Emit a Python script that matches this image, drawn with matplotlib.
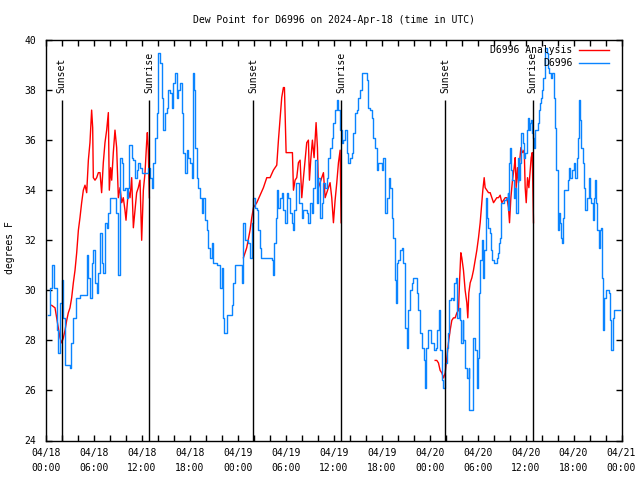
import numpy as np
import matplotlib
matplotlib.use("Agg")
import matplotlib.pyplot as plt

# ---------------- data (hours since 2024-04-18 00:00 UTC) ----------------
obs_hours = [0.25, 0.50, 0.79, 1.0, 1.25, 1.42, 1.54, 1.75, 1.96, 2.17, 2.38, 2.79, 3.0, 3.13, 3.42, 3.71,
             4.25, 4.80, 5.09, 5.30, 5.50, 5.71, 5.92, 6.13, 6.34, 6.55, 6.76, 6.96, 7.17, 7.38, 7.59, 7.80,
             8.01, 8.42, 8.76, 8.97, 9.05, 9.26, 9.47, 9.67, 9.88, 10.09, 10.30, 10.43, 10.72, 10.93, 11.13,
             11.34, 11.55, 11.76, 11.97, 12.39, 12.59, 12.80, 13.01, 13.22, 13.43, 13.64, 13.84, 14.05, 14.26,
             14.47, 14.68, 14.89, 15.10, 15.30, 15.51, 15.72, 15.93, 16.14, 16.35, 16.56, 16.76, 16.97, 17.18,
             17.39, 17.60, 17.81, 18.01, 18.22, 18.43, 18.56, 18.64, 18.85, 19.06, 19.27, 19.47, 19.68, 19.89,
             20.10, 20.31, 20.52, 20.73, 20.93, 21.35, 21.77, 21.98, 22.19, 22.31, 22.60, 23.23, 23.44, 23.64,
             24.27, 24.49, 24.70, 24.91, 25.11, 25.32, 25.53, 25.74, 25.95, 26.16, 26.37, 26.57, 26.78, 26.87,
             28.03, 28.24, 28.45, 28.58, 28.74, 28.87, 29.08, 29.29, 29.49, 29.70, 29.91, 30.12, 30.33, 30.54,
             30.75, 30.87, 31.04, 31.29, 31.46, 31.71, 32.0, 32.21, 32.42, 32.62, 32.83, 33.04, 33.25, 33.46,
             33.67, 33.88, 34.08, 34.29, 34.5, 34.71, 34.92, 35.13, 35.34, 35.54, 35.75, 35.96, 36.17, 36.38,
             36.59, 36.80, 37.0, 37.21, 37.42, 37.63, 37.84, 38.05, 38.26, 38.46, 38.67, 38.88, 39.09, 39.3,
             39.51, 39.92, 40.13, 40.34, 40.55, 40.76, 40.97, 41.18, 41.38, 41.59, 41.8, 42.01, 42.22, 42.43,
             42.64, 42.85, 43.05, 43.26, 43.47, 43.68, 43.76, 43.89, 44.1, 44.3, 44.51, 44.72, 44.93, 45.14,
             45.35, 45.56, 45.76, 45.97, 46.18, 46.39, 46.6, 46.81, 47.02, 47.23, 47.43, 47.56, 47.73, 47.98,
             48.14, 48.35, 48.56, 48.77, 48.98, 49.19, 49.31, 49.52, 49.73, 49.94, 50.15, 50.27, 50.44, 50.65,
             50.86, 51.06, 51.27, 51.40, 51.61, 51.81, 51.94, 52.11, 52.23, 52.44, 52.65, 52.86, 52.98, 53.19,
             53.36, 53.48, 53.69, 53.9, 54.03, 54.19, 54.32, 54.53, 54.73, 54.86, 55.03, 55.15, 55.36, 55.57,
             55.69, 55.86, 55.99, 56.2, 56.4, 56.53, 56.7, 56.82, 56.9, 57.11, 57.32, 57.53, 57.74, 57.86,
             57.95, 58.07, 58.2, 58.36, 58.49, 58.7, 58.82, 58.99, 59.12, 59.32, 59.45, 59.62, 59.74, 59.95,
             60.16, 60.28, 60.45, 60.58, 60.7, 60.78, 60.99, 61.08, 61.2, 61.41, 61.54, 61.62, 61.83, 61.95,
             62.08, 62.24, 62.37, 62.49, 62.66, 62.79, 62.95, 63.16, 63.29, 63.5, 63.62, 63.83, 64.0, 64.12,
             64.25, 64.41, 64.54, 64.66, 64.83, 65.04, 65.25, 65.46, 65.58, 65.79, 66.0, 66.21, 66.42, 66.54,
             66.71, 66.83, 66.96, 67.13, 67.25, 67.46, 67.67, 67.88, 68.0, 68.17, 68.38, 68.5, 68.63, 68.79,
             68.92, 69.13, 69.34, 69.46, 69.59, 69.67, 69.84, 70.0, 70.17, 70.38, 70.59, 70.71, 70.88, 71.0,
             71.63, 71.84]
obs_dewpt = [29.0, 30.1, 31.0, 30.1, 30.1, 28.4, 27.5, 29.5, 30.4, 28.9, 27.0, 27.0, 26.9, 27.9, 28.9, 29.7,
             29.8, 29.8, 31.4, 30.5, 29.7, 31.1, 31.6, 30.3, 29.9, 30.7, 32.3, 31.1, 30.7, 32.7, 32.5, 33.1,
             33.7, 33.7, 33.1, 31.1, 30.6, 35.3, 35.1, 34.0, 34.1, 33.7, 34.1, 35.8, 35.3, 35.2, 34.5,
             34.8, 35.1, 34.9, 34.7, 34.7, 34.7, 34.9, 34.5, 34.1, 35.1, 36.1, 37.1, 39.5, 39.1,
             37.7, 36.4, 37.1, 37.3, 38.0, 37.9, 37.3, 38.3, 38.7, 37.7, 38.0, 38.3, 37.1, 35.5,
             34.7, 35.6, 35.3, 35.1, 34.5, 38.7, 38.0, 35.7, 34.5, 34.1, 33.7, 33.1, 33.7, 32.8,
             32.4, 31.7, 31.3, 31.9, 31.1, 31.0, 30.1, 30.9, 28.9, 28.3, 29.0, 29.4, 30.3, 31.0,
             31.0, 30.3, 32.7, 32.0, 32.0, 31.9, 31.3, 32.7, 33.7, 33.3, 33.2, 32.4, 31.7, 31.3,
             31.3, 31.2, 30.6, 31.9, 32.9, 34.0, 33.3, 33.7, 33.9, 33.2, 32.7, 33.9, 33.7, 33.1,
             32.7, 32.4, 33.2, 34.3, 34.3, 33.5, 32.9, 33.2, 33.2, 33.1, 32.7, 33.5, 33.1, 34.1,
             35.2, 33.5, 34.5, 32.9, 33.5, 34.3, 34.1, 34.5, 35.3, 35.7, 36.1, 36.7, 37.2, 37.6,
             37.2, 36.4, 35.9, 36.0, 36.4, 35.5, 35.1, 35.3, 35.5, 36.3, 37.1, 37.2, 37.7, 38.0,
             38.7, 38.7, 38.4, 37.3, 37.2, 36.9, 36.1, 35.7, 34.8, 35.1, 35.1, 34.8, 35.3, 33.1,
             33.7, 34.5, 34.1, 32.9, 32.1, 30.4, 29.5, 31.1, 31.2, 31.6, 31.7, 31.1, 28.5, 27.7,
             29.2, 30.0, 30.3, 30.5, 30.5, 29.9, 29.2, 28.3, 27.7, 27.2, 26.1, 27.7, 28.4, 28.4,
             27.9, 27.9, 27.6, 27.7, 28.4, 29.2, 27.6, 26.4, 26.1, 27.1, 27.7, 28.3, 29.6, 29.7,
             29.6, 30.3, 30.5, 28.9, 29.3, 28.8, 27.9, 28.8, 28.0, 26.9, 26.5, 26.9, 25.2, 25.2,
             26.0, 28.1, 27.6, 26.1, 27.3, 29.9, 31.2, 32.0, 30.5, 31.6, 33.7, 32.9, 32.5, 32.3,
             31.6, 31.2, 31.1, 31.1, 31.3, 31.5, 31.9, 32.1, 33.5, 33.5, 33.6, 33.7, 33.9, 33.2,
             35.1, 35.7, 34.8, 34.4, 33.7, 34.1, 33.1, 35.3, 34.4, 35.1, 36.3, 35.9, 35.3, 35.5,
             36.4, 36.9, 36.4, 36.7, 36.8, 36.3, 36.1, 35.7, 36.4, 36.4, 36.7, 37.2, 37.5, 37.7,
             38.0, 38.5, 39.1, 39.7, 39.5, 38.9, 38.7, 38.5, 38.7, 37.7, 36.5, 34.8, 32.4, 33.1,
             32.7, 32.1, 31.9, 32.9, 34.0, 34.0, 34.4, 34.9, 34.5, 34.8, 35.1, 34.5, 35.3, 36.1,
             37.6, 36.8, 35.7, 35.1, 34.1, 33.2, 33.7, 34.5, 33.7, 33.5, 32.8, 33.7, 34.4, 33.5,
             32.4, 31.7, 32.4, 32.5, 30.5, 28.4, 29.7, 30.0, 30.0, 29.9, 28.8, 27.6, 28.9, 29.2,
             29.2, 29.2]

ana_hours = [0.71, 1.13, 1.33, 1.54, 1.75, 1.96, 2.17, 2.38, 2.59, 2.79, 3.0, 3.21, 3.42, 3.63, 3.84, 4.05,
             4.25, 4.46, 4.67, 4.88, 5.09, 5.30, 5.50, 5.71, 5.84, 5.92, 6.13, 6.34, 6.55, 6.76, 6.96, 7.17,
             7.38, 7.59, 7.80, 7.92, 8.09, 8.22, 8.42, 8.63, 8.84, 9.05, 9.26, 9.47, 9.67, 9.88, 10.01, 10.18,
             10.30, 10.51, 10.72, 10.93, 11.13, 11.34, 11.55, 11.76, 11.97, 12.18, 12.39, 12.59, 12.68, 12.80,
             12.93,
             18.0,
             24.70, 25.11, 25.53, 25.74, 25.95, 26.37, 26.78, 27.2, 27.62, 28.03, 28.45, 28.87, 29.08, 29.29,
             29.49, 29.7, 29.83, 30.04, 30.54, 30.83, 30.96, 31.16, 31.37, 31.58, 31.79, 32.0, 32.21, 32.42,
             32.62, 32.83, 32.96, 33.12, 33.33, 33.54, 33.79, 33.96, 34.08, 34.29, 34.5, 34.71, 34.92, 35.13,
             35.34, 35.54, 35.75, 35.96, 36.17, 36.38, 36.59, 36.8, 36.92,
             42.0,
             48.69, 48.89, 49.1, 49.31, 49.52, 49.73, 49.94, 50.15, 50.35, 50.56, 50.77, 50.98, 51.19, 51.4,
             51.61, 51.73, 51.9, 52.02, 52.23, 52.44, 52.65, 52.77, 52.9, 53.07, 53.28, 53.48, 53.69, 53.9,
             54.11, 54.32, 54.53, 54.65, 54.82, 54.94, 55.15, 55.36, 55.57, 55.78, 55.99, 56.2, 56.4, 56.61,
             56.82, 57.03, 57.24, 57.45, 57.66, 57.86, 57.99, 58.16, 58.36, 58.57, 58.7, 58.82, 58.99, 59.12,
             59.24, 59.41, 59.62, 59.83, 59.95, 60.08, 60.24, 60.41, 60.58, 60.7, 60.83, 60.99]
ana_dewpt = [29.4, 29.3, 28.9, 28.5, 28.1, 27.9, 28.1, 28.4, 28.8, 29.1, 29.3, 29.7, 30.3, 30.8, 31.5, 32.4,
             32.9, 33.5, 34.0, 34.2, 33.9, 35.2, 35.9, 37.2, 36.5, 34.5, 34.4, 34.5, 34.7, 34.7, 33.9, 35.1,
             35.9, 36.4, 37.1, 34.0, 34.9, 34.4, 35.5, 36.4, 35.7, 33.7, 34.1, 33.5, 33.7, 33.2, 32.8, 33.5,
             34.0, 33.7, 34.5, 32.5, 33.2, 33.9, 34.1, 34.4, 32.0, 34.0, 34.7, 35.9, 36.3, 35.6,
             33.7,
             np.nan,
             31.3, 31.7, 32.4, 32.9, 33.3, 33.5, 33.8, 34.1, 34.5, 34.5, 34.8, 35.0, 36.0, 36.9,
             37.7, 38.1, 38.1, 35.5, 35.5, 35.5, 34.0, 34.4, 34.5, 35.1, 35.2, 33.7, 34.5, 35.2,
             35.9, 36.0, 34.4, 35.2, 36.0, 35.3, 36.7, 35.7, 34.1, 34.3, 34.5, 34.7, 33.7, 33.9,
             34.1, 34.3, 33.7, 32.7, 33.6, 34.3, 35.1, 35.6, 32.7,
             np.nan,
             27.2, 27.2, 27.1, 26.8, 26.7, 26.5, 26.7, 27.3, 27.9, 28.4, 28.8, 28.9, 28.9, 29.1,
             29.2, 30.3, 31.5, 31.3, 30.8, 30.0, 29.5, 28.9, 29.9, 30.3, 30.5, 30.8, 31.2, 31.6,
             32.1, 32.7, 33.5, 34.0, 34.5, 34.1, 34.0, 33.9, 33.9, 33.7, 33.5, 33.6, 33.7, 33.7,
             33.8, 33.5, 33.6, 33.7, 33.7, 33.3, 32.7, 33.7, 34.4, 34.9, 35.3, 34.1, 34.9, 34.3,
             35.1, 35.7, 35.5, 35.6, 34.1, 33.5, 34.5, 34.1, 34.8, 35.3, 35.5, 32.7]

sun_hours = [1.97, 12.93, 25.95, 36.96, 49.98, 60.87]
sun_labels = ["Sunset", "Sunrise", "Sunset", "Sunrise", "Sunset", "Sunrise"]

xtick_hours = [0, 6, 12, 18, 24, 30, 36, 42, 48, 54, 60, 66, 72]
xtick_labels = ["04/18\n00:00", "04/18\n06:00", "04/18\n12:00", "04/18\n18:00",
                "04/19\n00:00", "04/19\n06:00", "04/19\n12:00", "04/19\n18:00",
                "04/20\n00:00", "04/20\n06:00", "04/20\n12:00", "04/20\n18:00",
                "04/21\n00:00"]
ytick_values = [24, 26, 28, 30, 32, 34, 36, 38, 40]

# ---------------- figure ----------------
plt.rcParams['font.family'] = ['DejaVu Sans Mono']
FS = 7

fig = plt.figure(figsize=(6.4, 4.8), dpi=100)
W, H = 640, 480
L, R, T, B = 46, 621.5, 40, 440.5
ax = fig.add_axes([L / W, 1 - B / H, (R - L) / W, (B - T) / H])

ax.plot(ana_hours, ana_dewpt, color='#ff0000', lw=1.0, label='D6996 Analysis')
ax.plot(obs_hours, obs_dewpt, color='#0a84ff', lw=1.0, drawstyle='steps-post', label='D6996')

for h, lab in zip(sun_hours, sun_labels):
    ax.vlines(h, 24, 37.62, color='black', lw=1.0)
    ax.text(h, 37.9, lab, rotation=90, ha='center', va='bottom', fontsize=FS)

ax.set_xlim(0, 72)
ax.set_ylim(24, 40)
ax.set_xticks(xtick_hours)
ax.set_xticklabels(xtick_labels, fontsize=FS, linespacing=1.65)
ax.set_xticks(np.arange(0, 73, 2), minor=True)
ax.set_yticks(ytick_values)
ax.set_yticklabels([str(v) for v in ytick_values], fontsize=FS)
ax.tick_params(axis='both', which='both', direction='in', top=True, right=True,
               length=4, width=1.0)
ax.tick_params(axis='y', pad=7)
ax.tick_params(axis='x', pad=5.5)
for s in ax.spines.values():
    s.set_linewidth(1.0)

ax.set_title("Dew Point for D6996 on 2024-Apr-18 (time in UTC)", fontsize=FS, pad=12.5)
fig.text(10 / W, 1 - 248 / H, "degrees F", rotation=90, ha='center', va='center', fontsize=FS)

ax.legend(loc='upper right', bbox_to_anchor=(1 - 5.4 / (R - L), 1 + 1.5 / (B - T)),
          frameon=False, markerfirst=False, fontsize=FS,
          handlelength=3.1, handletextpad=0.7, labelspacing=0.28, borderaxespad=0.4,
          borderpad=0.3)

fig.savefig("out.png", dpi=100)
